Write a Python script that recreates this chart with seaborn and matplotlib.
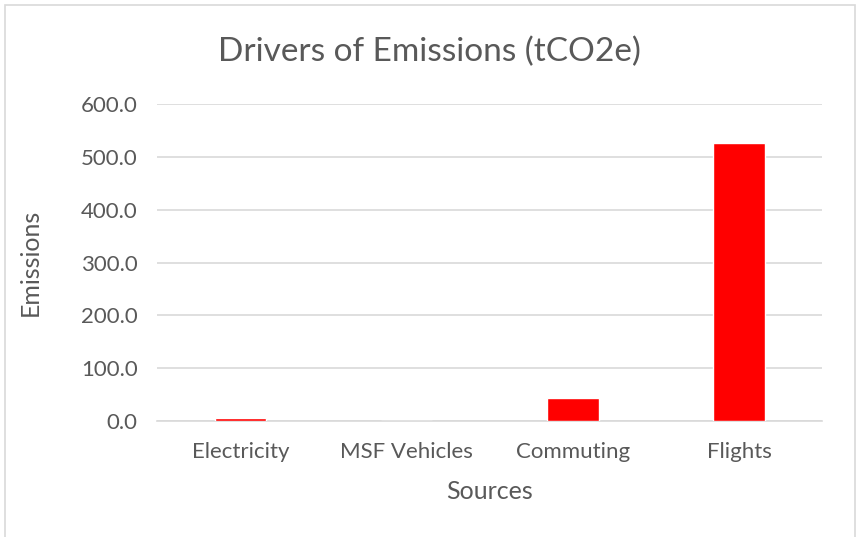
import pandas as pd
import matplotlib.pyplot as plt
import seaborn as sns
from matplotlib.patches import Rectangle

# Data
sources = ["Electricity", "MSF Vehicles", "Commuting", "Flights"]
emissions = [5.0, 0.6, 43.0, 526.0]

df = pd.DataFrame({"Sources": sources, "Emissions": emissions})

sns.set_style("white")
plt.rcParams['font.family'] = ['Lato', 'DejaVu Sans']

fig = plt.figure(figsize=(8.59, 5.37), dpi=100)
ax = fig.add_axes([0.183, 0.216, 0.774, 0.590])

sns.barplot(x="Sources", y="Emissions", data=df, color="#ff0000",
            width=0.31, saturation=1, ax=ax, zorder=3)

ax.set_ylim(0, 600)
ax.set_yticks(range(0, 601, 100))
ax.set_yticklabels([f"{v:.1f}" for v in range(0, 601, 100)])
ax.yaxis.grid(True, color="#d9d9d9", linewidth=1.2, zorder=0)
ax.set_axisbelow(True)

for s in ["top", "right", "left"]:
    ax.spines[s].set_visible(False)
ax.spines["bottom"].set_color("#d9d9d9")
ax.spines["bottom"].set_linewidth(1.2)

ax.tick_params(axis="both", length=0, labelsize=16, labelcolor="#595959")
ax.tick_params(axis="x", pad=15)
ax.tick_params(axis="y", pad=14)
ax.set_xlabel("Sources", fontsize=18, color="#595959", labelpad=13)
ax.set_ylabel("Emissions", fontsize=18, color="#595959", labelpad=28)

# title is centred on the whole chart, not on the plot area
fig.text(0.5, 1 - 52 / 537, "Drivers of Emissions (tCO2e)", fontsize=24,
         color="#595959", ha="center", va="center")

# Outer chart border
fig.patches.append(Rectangle((5 / 859, -0.01), 850 / 859, 1 - 5 / 537 + 0.01,
                             transform=fig.transFigure, fill=False,
                             edgecolor="#d9d9d9", linewidth=1.2))

fig.savefig("out.png", dpi=100)
